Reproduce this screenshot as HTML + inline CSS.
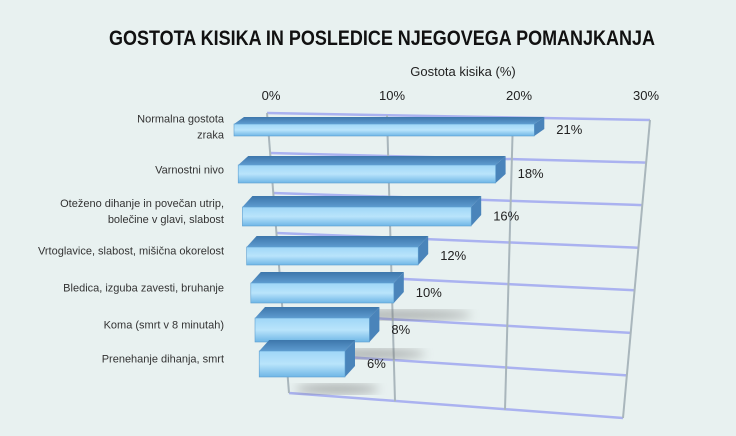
<!DOCTYPE html>
<html><head><meta charset="utf-8"><style>
body{margin:0;background:#e8f1f0;}
svg{display:block;font-family:"Liberation Sans",sans-serif;}
</style></head><body>
<svg id="chart" width="736" height="436" viewBox="0 0 736 436">
<defs>
<linearGradient id="front" x1="0" y1="0" x2="0" y2="1"><stop offset="0" stop-color="#9fd6f7"/><stop offset="0.5" stop-color="#b9e4fb"/><stop offset="1" stop-color="#6fb6e6"/></linearGradient>
<linearGradient id="top" x1="0" y1="0" x2="0" y2="1"><stop offset="0" stop-color="#3d76ab"/><stop offset="1" stop-color="#5e9bcf"/></linearGradient>
<filter id="blur"><feGaussianBlur stdDeviation="5"/></filter>
</defs>
<rect width="736" height="436" fill="#e8f1f0"/>
<text x="382" y="45" text-anchor="middle" font-size="21" font-weight="bold" textLength="546" lengthAdjust="spacingAndGlyphs" fill="#111">GOSTOTA KISIKA IN POSLEDICE NJEGOVEGA POMANJKANJA</text>
<text x="463" y="76" text-anchor="middle" font-size="13" fill="#222">Gostota kisika (%)</text>
<g id="grid"></g><g id="shadows"></g><g id="bars"></g>
</svg>
<script>
const categories=[["Normalna gostota","zraka"],["Varnostni nivo"],["Oteženo dihanje in povečan utrip,","bolečine v glavi, slabost"],["Vrtoglavice, slabost, mišična okorelost"],["Bledica, izguba zavesti, bruhanje"],["Koma (smrt v 8 minutah)"],["Prenehanje dihanja, smrt"]];
const values=[21,18,16,12,10,8,6];
const ticks=[0,10,20,30];
const tickLabels=["0%","10%","20%","30%"];
const NS="http://www.w3.org/2000/svg";
function mk(t,a,p){const e=document.createElementNS(NS,t);for(const k in a)e.setAttribute(k,a[k]);p.appendChild(e);return e;}
const grid=document.getElementById('grid'),bars=document.getElementById('bars'),sh=document.getElementById('shadows');
// plane corners
const TL=[267,113],TR=[650,120],BL=[289,393],BR=[623,418];
const topX=[267,387,513,650],botX=[289,395,505,623];
function lerp(a,b,t){return a+(b-a)*t;}
function gx(v,row){const i=v/10,f=Math.floor(Math.min(i,2.999)),r=i-f;const tx=lerp(topX[f],topX[f+1],r),bx=lerp(botX[f],botX[f+1],r);return lerp(tx,bx,row);}
const n=values.length;
for(let i=0;i<=n;i++){const t=i/n;
 const l=mk('line',{x1:lerp(TL[0],BL[0],t),y1:lerp(TL[1],BL[1],t),x2:lerp(TR[0],BR[0],t),y2:lerp(TR[1],BR[1],t),stroke:'#aab2f0','stroke-width':2.5},grid);
 
 }
ticks.forEach((v,j)=>{const y1=lerp(TL[1],TR[1],v/30),y2=lerp(BL[1],BR[1],v/30);
 const l=mk('line',{x1:gx(v,0),y1:y1,x2:gx(v,1),y2:y2,stroke:'#a9b6bc','stroke-width':2},grid);
 
 
 const t=mk('text',{x:[271,392,519,646][j],y:100,'text-anchor':'middle','font-size':13,fill:'#222'},grid);t.textContent=tickLabels[j];
 
 });
const fronts=[[124,136],[165,183],[207,226],[247,265],[283,303],[318,342],[351,377]];
const SCALE=14.3;
values.forEach((v,i)=>{
 const x0=234+i*4.2,[fy,by]=fronts[i],dy=Math.min(7+i*2,11),dx=10;
 const x1=x0+v*SCALE;
 if(i>=4){const s=mk('ellipse',{cx:x1+40-i*8,cy:by+12,rx:v*7,ry:5,fill:'#777',opacity:0.55,filter:'url(#blur)'},sh);
  
  }
 const g=mk('g',{},bars);
 
 
 mk('polygon',{points:`${x0},${fy} ${x0+dx},${fy-dy} ${x1+dx},${fy-dy} ${x1},${fy}`,fill:'url(#top)'},g);
 mk('polygon',{points:`${x1},${fy} ${x1+dx},${fy-dy} ${x1+dx},${by-dy} ${x1},${by}`,fill:'#4a84ba'},g);
 mk('rect',{x:x0,y:fy,width:x1-x0,height:by-fy,fill:'url(#front)',stroke:'#5d9fd0','stroke-width':0.6},g);
 const vt=mk('text',{x:x1+dx+12,y:(fy+by)/2+4,'font-size':13,fill:'#222'},bars);vt.textContent=v+'%';
 
 
 const lines=categories[i],cy=(fy-dy+by)/2;
 lines.forEach((s,k)=>{const t=mk('text',{x:224,y:cy+4+(k-(lines.length-1)/2)*16,'text-anchor':'end','font-size':11,fill:'#333'},bars);t.textContent=s;
  
  });
});
</script>
</body></html>
